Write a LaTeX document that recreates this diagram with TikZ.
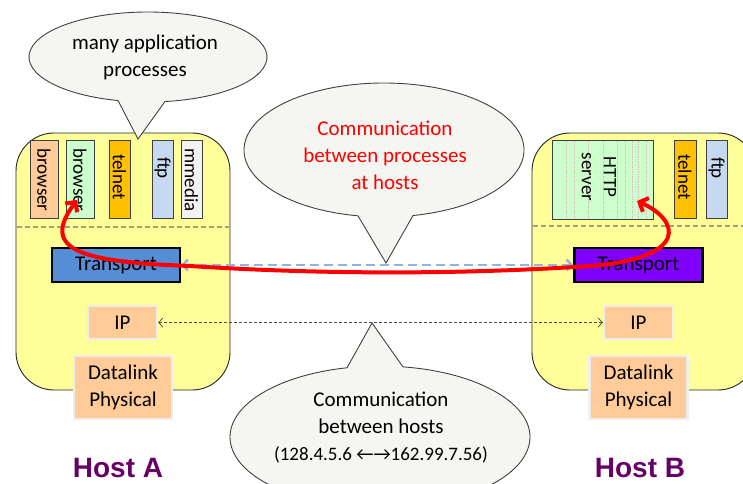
\documentclass[tikz,border=0pt]{standalone}
\usepackage{fontspec}
\setmainfont{Carlito}
\newfontfamily\hostfont{Liberation Sans}
\usetikzlibrary{arrows.meta}
\definecolor{hostyellow}{HTML}{FFFF99}
\definecolor{sepgray}{HTML}{A0A088}
\definecolor{peach}{HTML}{FFCC99}
\definecolor{greenbox}{HTML}{CCFFCC}
\definecolor{telnetorange}{HTML}{FFC000}
\definecolor{ftpblue}{HTML}{C6D9F1}
\definecolor{mmgray}{HTML}{F2F2F2}
\definecolor{trblue}{HTML}{558ED5}
\definecolor{trpurple}{HTML}{7F00FF}
\definecolor{layerborder}{HTML}{EEEEEE}
\definecolor{bubblefill}{HTML}{F5F5F2}
\definecolor{arrowblue}{HTML}{8EB4E3}
\definecolor{hostpurple}{HTML}{660066}
\definecolor{httpline}{HTML}{D8BCBC}
\begin{document}
\begin{tikzpicture}[x=1pt,y=-1pt,
  hostbox/.style={draw=black!85, fill=hostyellow, line width=0.9pt, rounded corners=38pt},
  sepline/.style={draw=sepgray, line width=1.4pt, dash pattern=on 5pt off 3pt},
  appbox/.style={draw=black!75, line width=1pt, inner sep=0pt},
  apptext/.style={rotate=-90, font=\fontsize{19}{22}\selectfont, inner sep=0pt, text=black},
  trbox/.style={draw=black, line width=2.4pt, minimum width=128, minimum height=34, inner sep=0pt, font=\fontsize{21}{25}\selectfont},
  layerbox/.style={draw=layerborder, fill=peach, line width=2.5pt, inner sep=0pt, font=\fontsize{21}{27}\selectfont, align=center},
  bubble/.style={draw=black!75, fill=bubblefill, line width=0.9pt},
  bubbletext/.style={font=\fontsize{21}{27}\selectfont, align=center, inner sep=0pt},
  hostlabel/.style={font=\hostfont\bfseries\fontsize{28}{30}\selectfont, text=hostpurple, inner sep=0pt},
  bluearrow/.style={draw=arrowblue, line width=2.5pt, dash pattern=on 9pt off 5pt, {Straight Barb[length=5pt,width=11pt]}-{Straight Barb[length=5pt,width=11pt]}},
  iparrow/.style={draw=black!70, line width=0.8pt, dash pattern=on 3pt off 2pt, {Straight Barb[length=4pt,width=9pt]}-{Straight Barb[length=4pt,width=9pt]}},
  redcurve/.style={draw=red, line width=4pt, {Straight Barb[length=7pt,width=15pt]}-{Straight Barb[length=7pt,width=15pt]}}
]
\useasboundingbox (0,0) rectangle (743,483);
\begin{scope}
\clip (0,0) rectangle (743,483);
% host boxes
\draw[hostbox] (16,133) rectangle (230,390);
\draw[hostbox] (532,133) rectangle (756,390);
\draw[sepline] (17,227) -- (229,227);
\draw[sepline] (533,226) -- (743,226);
% host A application boxes
\node[appbox, fill=peach, minimum width=28, minimum height=78] (brA1) at (44,179) {};
\node[appbox, fill=greenbox, minimum width=28, minimum height=78] (brA2) at (80,179) {};
\node[appbox, fill=telnetorange, minimum width=21, minimum height=78] (telA) at (119.5,179) {};
\node[appbox, fill=ftpblue, minimum width=21, minimum height=78] (ftpA) at (162.5,179) {};
\node[appbox, fill=mmgray, minimum width=21, minimum height=78] (mmA) at (191.5,179) {};
\node[apptext] (tbrA1) at (44,180) {browser};
\node[apptext] (tbrA2) at (80,180) {browser};
\node[apptext] (ttelA) at (119.5,177) {telnet};
\node[apptext] (tftpA) at (162.5,168) {ftp};
\node[apptext] (tmmA) at (191.5,180) {mmedia};
% host B application boxes
\node[appbox, fill=greenbox, minimum width=101, minimum height=79] (http) at (602.5,179.5) {};
\foreach \xx in {566,574,588,603,617,625,632,638,646}
  \draw[httpline, line width=0.5pt, dash pattern=on 1.5pt off 1pt] (\xx,141) -- (\xx,218);
\node[apptext, align=center] (thttp) at (599,177) {HTTP\\server};
\node[appbox, fill=telnetorange, minimum width=22, minimum height=78] (telB) at (685,179) {};
\node[appbox, fill=ftpblue, minimum width=21, minimum height=78] (ftpB) at (716.5,179) {};
\node[apptext] (ttelB) at (685,177) {telnet};
\node[apptext] (tftpB) at (716.5,168) {ftp};
% transport
\node[trbox, fill=trblue] (trA) at (116,265) {Transport};
\node[trbox, fill=trpurple] (trB) at (638.5,265) {Transport};
% IP and datalink
\node[layerbox, minimum width=69, minimum height=33] (ipA) at (122.5,322.5) {IP};
\node[layerbox, minimum width=69, minimum height=33] (ipB) at (638.5,322.5) {IP};
\node[layerbox, minimum width=98, minimum height=63] (dlA) at (123,387.5) {Datalink\\Physical};
\node[layerbox, minimum width=98, minimum height=63] (dlB) at (638.5,387.5) {Datalink\\Physical};
% peer arrows
\draw[bluearrow] (trA.east) -- (trB.west);
\draw[iparrow] (ipA.east) -- (ipB.west);
% bubbles
\draw[bubble] (148,57) ++(104.6:119 and 45) arc[start angle=104.6, end angle=441.8, x radius=119, y radius=45] -- (138,139) -- cycle;
\node[bubbletext] (b1) at (145,57) {many application\\processes};
\draw[bubble] (384,150) ++(100.7:140 and 67) arc[start angle=100.7, end angle=438.05, x radius=140, y radius=67] -- (386,263) -- cycle;
\node[bubbletext, text=red] (b2) at (385,155) {Communication\\between processes\\at hosts};
\draw[bubble] (380,437) ++(278.8:150 and 71) arc[start angle=278.8, end angle=617.3, x radius=150, y radius=71] -- (372,323) -- cycle;
\node[bubbletext] (b3) at (381,428) {Communication\\between hosts\\{\fontsize{19}{26}\selectfont (128.4.5.6 ←→162.99.7.56)}};
% red process-to-process curve
\coordinate (redA) at (77,200);
\coordinate (redB) at (637,201);
\draw[redcurve] (redA) .. controls (40,250) and (80,262) .. (190,266) .. controls (330,275) and (470,274) .. (590,266) .. controls (690,258) and (680,220) .. (redB);
% host labels
\node[hostlabel] (hA) at (118,468) {Host A};
\node[hostlabel] (hB) at (640,468) {Host B};
\end{scope}
\end{tikzpicture}
\end{document}
